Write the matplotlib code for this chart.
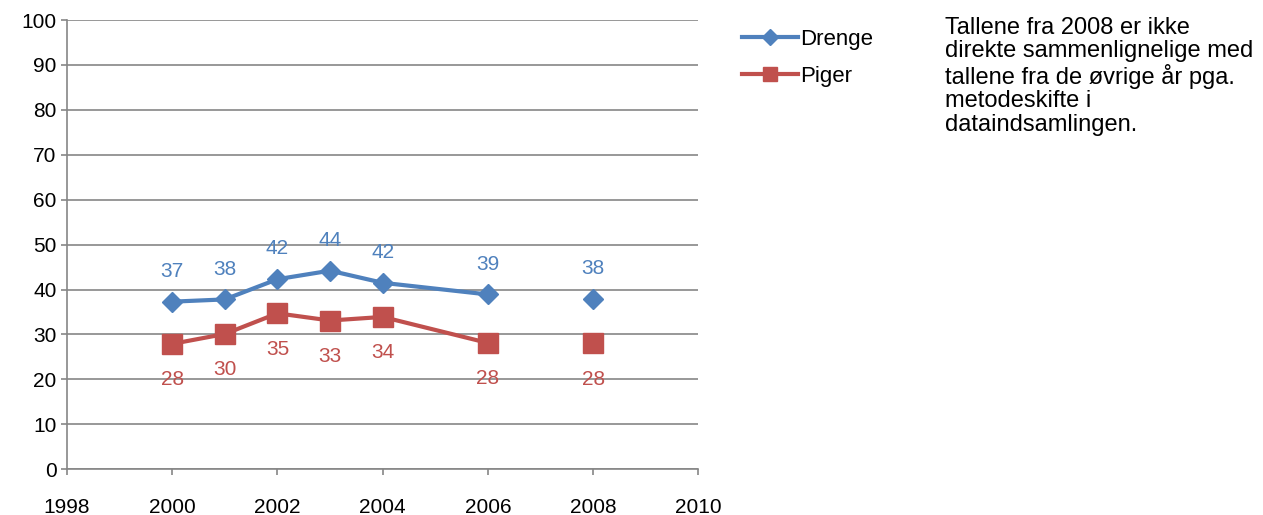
import numpy as np
import matplotlib.pyplot as plt

plt.rcParams['font.family'] = ['Liberation Sans', 'DejaVu Sans']

years = [2000, 2001, 2002, 2003, 2004, 2006, 2008]
drenge = [37.3, 37.8, 42.3, 44.2, 41.5, 38.9, 38.0]
piger = [27.9, 30.1, 34.7, 33.1, 33.9, 28.1, 28.0]
drenge_labels = ["37", "38", "42", "44", "42", "39", "38"]
piger_labels = ["28", "30", "35", "33", "34", "28", "28"]
note = ("Tallene fra 2008 er ikke\ndirekte sammenlignelige med\n"
        "tallene fra de øvrige år pga.\nmetodeskifte i\ndataindsamlingen.")

blue = "#4F81BD"
red = "#C0504D"
grey = "#868686"

fig = plt.figure(figsize=(12.63, 5.15), dpi=100)
ax = fig.add_axes([0.053, 0.089, 0.5, 0.872])


def split_line(xs, ys):
    # break the line before 2008 (method change)
    x_out, y_out = [], []
    for x, y in zip(xs, ys):
        if x == 2008:
            x_out.append(np.nan)
            y_out.append(np.nan)
        x_out.append(x)
        y_out.append(y)
    return x_out, y_out


dx, dy = split_line(years, drenge)
px, py = split_line(years, piger)
ax.plot(dx, dy, color=blue, lw=3, marker="D", ms=10.5, label="Drenge", zorder=3)
ax.plot(px, py, color=red, lw=3, marker="s", ms=14, label="Piger", zorder=3)

for x, y, t in zip(years, drenge, drenge_labels):
    ax.annotate(t, (x, y), xytext=(0, 15), textcoords="offset points",
                ha="center", va="bottom", color=blue, fontsize=15)
for x, y, t in zip(years, piger, piger_labels):
    ax.annotate(t, (x, y), xytext=(0, -19), textcoords="offset points",
                ha="center", va="top", color=red, fontsize=15)

ax.set_xlim(1998, 2010)
ax.set_ylim(0, 100)
ax.set_xticks(range(1998, 2011, 2))
ax.set_yticks(range(0, 101, 10))
ax.yaxis.grid(True, color=grey, lw=1.2)
ax.set_axisbelow(True)
for s in ["top", "right"]:
    ax.spines[s].set_visible(False)
for s in ["left", "bottom"]:
    ax.spines[s].set_color(grey)
    ax.spines[s].set_linewidth(1.2)
ax.tick_params(axis="both", colors=grey, labelcolor="black", labelsize=15,
               length=4, width=1.2, direction="out")
ax.tick_params(axis="x", pad=17)

fig.legend(loc="upper left", bbox_to_anchor=(0.572, 0.982), frameon=False,
           fontsize=16, handlelength=2.5, labelspacing=0.72, handletextpad=0.1,
           markerscale=0.75)

fig.text(0.748, 0.967, note, ha="left", va="top", fontsize=17, linespacing=1.08)

fig.savefig("out.png")
